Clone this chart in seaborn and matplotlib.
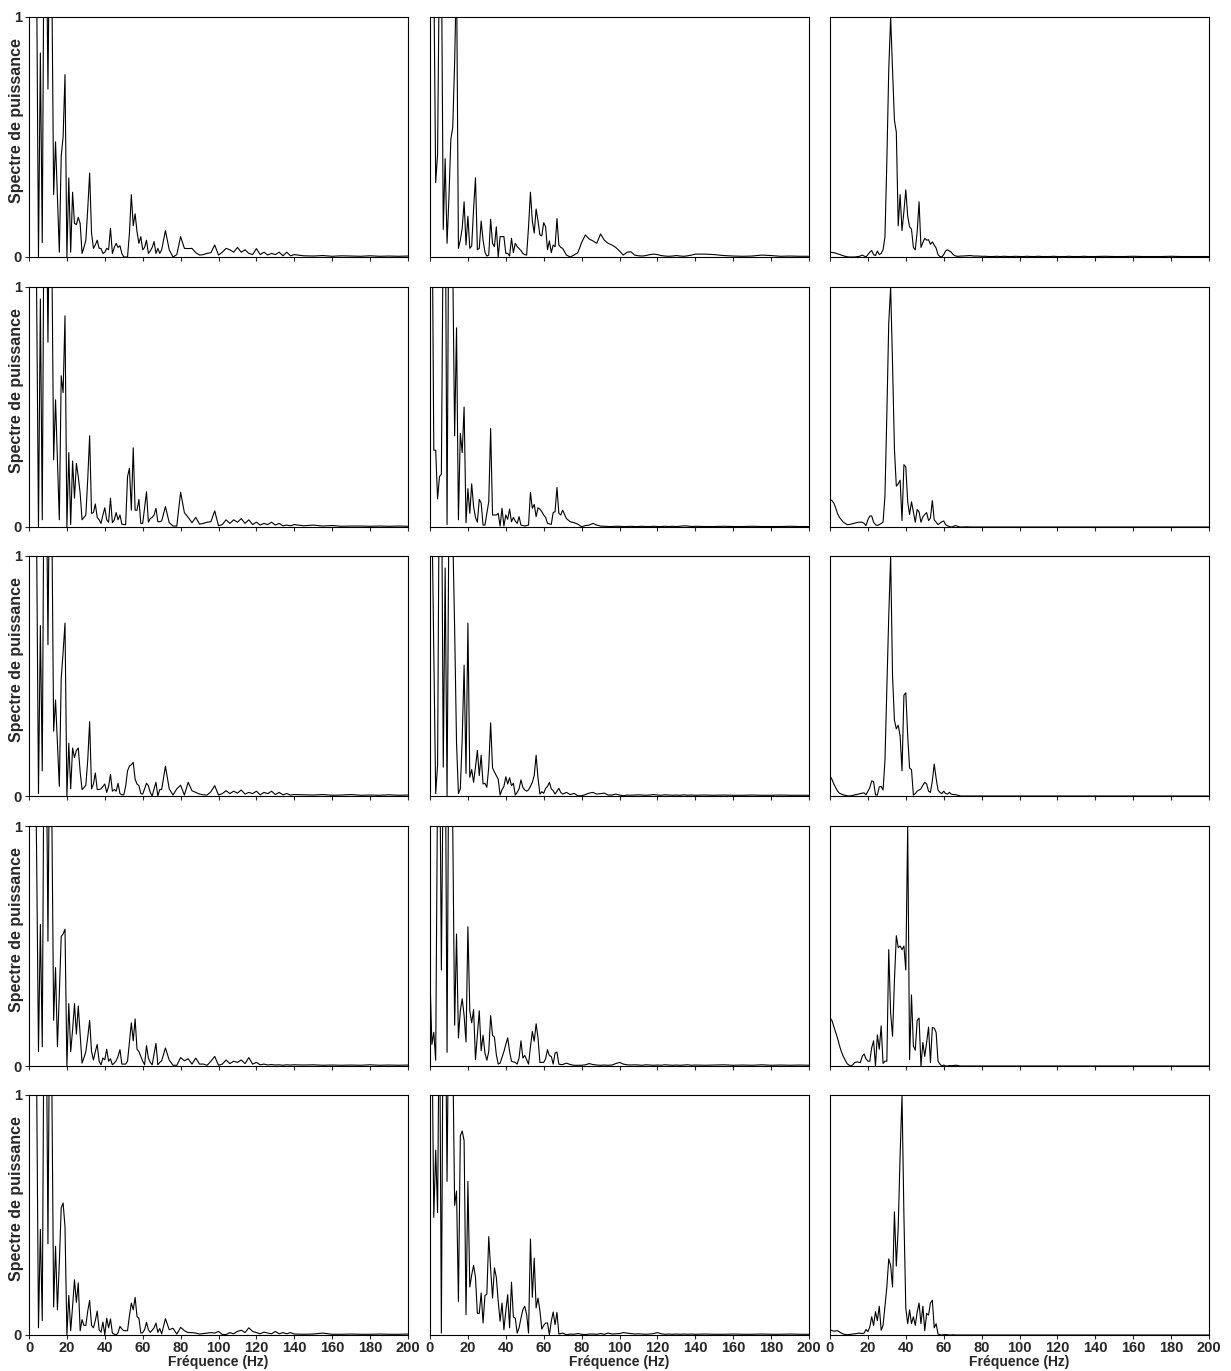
import numpy as np
import pandas as pd
import matplotlib
matplotlib.use('Agg')
import matplotlib.pyplot as plt
import seaborn as sns

# frequency grid (Hz): 1 Hz up to 70, 2 Hz up to 140, 5 Hz up to 200
freq = list(range(0, 71)) + list(range(72, 141, 2)) + list(range(145, 201, 5))

# ---- left column ----
L1 = [1.5, 1.5, 1.5, 1.5, 1.2, 0.0, 0.85, 0.06, 1.5, 1.5,
      0.70, 1.5, 1.2, 0.26, 0.48, 0.25, 0.02, 0.42, 0.50, 0.76,
      0.0, 0.33, 0.02, 0.27, 0.14, 0.135, 0.165, 0.14, 0.015, 0.04,
      0.07, 0.2, 0.35, 0.1, 0.036, 0.05, 0.07, 0.036, 0.036, 0.015,
      0.02, 0.036, 0.03, 0.12, 0.015, 0.04, 0.057, 0.04, 0.047, 0.015,
      0.0, 0.0, 0.0, 0.1, 0.26, 0.13, 0.18, 0.105, 0.057, 0.085,
      0.03, 0.04, 0.07, 0.015, 0.025, 0.04, 0.064, 0.015, 0.036, 0.015,
      0.03, 0.11, 0.03, 0.0, 0.01, 0.085, 0.036, 0.035, 0.036, 0.018,
      0.008, 0.01, 0.015, 0.018, 0.05, 0.008, 0.02, 0.036, 0.03, 0.02,
      0.04, 0.02, 0.03, 0.015, 0.01, 0.035, 0.01, 0.02, 0.008, 0.015,
      0.01, 0.02, 0.005, 0.02, 0.005, 0.01, 0.005, 0.004, 0.006, 0.003,
      0.005, 0.004, 0.003, 0.005, 0.003, 0.004, 0.003, 0.004]
L2 = [1.5, 1.5, 1.5, 1.5, 1.0, 0.0, 0.95, 0.03, 1.5, 1.5,
      0.77, 1.5, 1.2, 0.28, 0.53, 0.28, 0.03, 0.63, 0.56, 0.88,
      0.0, 0.31, 0.01, 0.275, 0.12, 0.265, 0.21, 0.14, 0.03, 0.04,
      0.05, 0.2, 0.38, 0.057, 0.06, 0.096, 0.04, 0.03, 0.015, 0.05,
      0.08, 0.03, 0.02, 0.12, 0.018, 0.03, 0.06, 0.03, 0.05, 0.012,
      0.01, 0.01, 0.21, 0.245, 0.07, 0.33, 0.07, 0.07, 0.115, 0.015,
      0.015, 0.08, 0.147, 0.02, 0.035, 0.04, 0.05, 0.078, 0.022, 0.022,
      0.025, 0.085, 0.018, 0.004, 0.004, 0.145, 0.06, 0.04, 0.018, 0.04,
      0.012, 0.015, 0.02, 0.022, 0.067, 0.005, 0.01, 0.03, 0.015, 0.03,
      0.02, 0.035, 0.015, 0.03, 0.01, 0.02, 0.008, 0.015, 0.01, 0.02,
      0.008, 0.015, 0.005, 0.008, 0.005, 0.01, 0.005, 0.008, 0.004, 0.006,
      0.003, 0.004, 0.004, 0.003, 0.004, 0.003, 0.004, 0.003]
L3 = [1.5, 1.5, 1.5, 1.5, 1.1, 0.01, 0.71, 0.105, 1.5, 1.5,
      0.63, 1.5, 1.2, 0.27, 0.40, 0.22, 0.04, 0.49, 0.60, 0.72,
      0.0, 0.22, 0.03, 0.2, 0.16, 0.19, 0.2, 0.1, 0.027, 0.035,
      0.045, 0.15, 0.31, 0.03, 0.05, 0.096, 0.027, 0.027, 0.03, 0.04,
      0.05, 0.015, 0.04, 0.09, 0.02, 0.027, 0.02, 0.053, 0.01, 0.005,
      0.005, 0.04, 0.105, 0.125, 0.13, 0.14, 0.07, 0.05, 0.043, 0.01,
      0.008, 0.03, 0.053, 0.043, 0.015, 0.0, 0.03, 0.057, 0.0, 0.027,
      0.027, 0.124, 0.03, 0.004, 0.03, 0.045, 0.004, 0.057, 0.022, 0.015,
      0.008, 0.005, 0.004, 0.018, 0.043, 0.004, 0.01, 0.022, 0.01, 0.02,
      0.012, 0.025, 0.008, 0.015, 0.01, 0.02, 0.005, 0.015, 0.01, 0.02,
      0.006, 0.015, 0.005, 0.01, 0.004, 0.006, 0.005, 0.004, 0.006, 0.003,
      0.004, 0.006, 0.003, 0.004, 0.003, 0.005, 0.003, 0.004]
L4 = [1.5, 1.5, 1.5, 1.5, 0.9, 0.06, 0.59, 0.08, 1.5, 1.5,
      0.52, 1.5, 1.1, 0.19, 0.41, 0.08, 0.3, 0.54, 0.55, 0.57,
      0.0, 0.26, 0.06, 0.15, 0.26, 0.133, 0.25, 0.13, 0.012, 0.035,
      0.06, 0.12, 0.19, 0.06, 0.025, 0.06, 0.09, 0.02, 0.005, 0.033,
      0.026, 0.07, 0.02, 0.03, 0.005, 0.012, 0.022, 0.04, 0.068, 0.008,
      0.008, 0.008, 0.02, 0.1, 0.18, 0.105, 0.196, 0.07, 0.06, 0.04,
      0.02, 0.005, 0.085, 0.033, 0.015, 0.005, 0.05, 0.094, 0.005, 0.015,
      0.022, 0.075, 0.025, 0.003, 0.003, 0.035, 0.022, 0.03, 0.008, 0.033,
      0.008, 0.008, 0.003, 0.02, 0.04, 0.003, 0.008, 0.025, 0.01, 0.02,
      0.015, 0.025, 0.01, 0.035, 0.008, 0.015, 0.005, 0.008, 0.004, 0.006,
      0.004, 0.005, 0.003, 0.005, 0.004, 0.005, 0.004, 0.005, 0.003, 0.004,
      0.003, 0.004, 0.003, 0.005, 0.003, 0.004, 0.003, 0.004]
L5 = [1.5, 1.5, 1.5, 1.5, 1.1, 0.03, 0.44, 0.06, 1.5, 1.5,
      0.38, 1.5, 1.1, 0.117, 0.37, 0.105, 0.3, 0.53, 0.55, 0.45,
      0.0, 0.165, 0.018, 0.12, 0.23, 0.136, 0.217, 0.018, 0.064, 0.04,
      0.04, 0.1, 0.144, 0.04, 0.03, 0.06, 0.1, 0.022, 0.011, 0.054,
      0.001, 0.07, 0.03, 0.067, 0.008, 0.003, 0.0, 0.01, 0.036, 0.025,
      0.018, 0.018, 0.018, 0.08, 0.133, 0.105, 0.157, 0.077, 0.07, 0.008,
      0.01, 0.022, 0.053, 0.022, 0.011, 0.02, 0.03, 0.05, 0.011, 0.027,
      0.005, 0.068, 0.022, 0.028, 0.004, 0.032, 0.018, 0.01, 0.01, 0.008,
      0.004, 0.006, 0.008, 0.01, 0.008, 0.015, 0.002, 0.002, 0.01, 0.005,
      0.015, 0.02, 0.01, 0.03, 0.015, 0.01, 0.005, 0.012, 0.008, 0.005,
      0.015, 0.005, 0.01, 0.005, 0.01, 0.004, 0.003, 0.004, 0.008, 0.003,
      0.003, 0.004, 0.003, 0.003, 0.004, 0.003, 0.003, 0.004]

# ---- middle column ----
M1 = [1.5, 1.5, 1.2, 0.31, 0.43, 1.3, 1.3, 0.115, 0.41, 0.057,
      0.25, 0.49, 0.54, 0.81, 1.2, 0.036, 0.07, 0.12, 0.23, 0.05,
      0.17, 0.036, 0.046, 0.2, 0.33, 0.03, 0.036, 0.15, 0.07, 0.02,
      0.004, 0.008, 0.157, 0.057, 0.043, 0.126, 0.0, 0.085, 0.085, 0.085,
      0.015, 0.015, 0.004, 0.078, 0.018, 0.057, 0.043, 0.035, 0.027, 0.015,
      0.01, 0.008, 0.126, 0.27, 0.15, 0.1, 0.2, 0.15, 0.092, 0.088,
      0.143, 0.126, 0.03, 0.067, 0.018, 0.05, 0.043, 0.16, 0.05, 0.04,
      0.036, 0.008, 0.0, 0.008, 0.018, 0.06, 0.092, 0.075, 0.067, 0.057,
      0.096, 0.07, 0.057, 0.05, 0.04, 0.025, 0.008, 0.02, 0.022, 0.008,
      0.005, 0.004, 0.006, 0.01, 0.012, 0.01, 0.006, 0.004, 0.003, 0.004,
      0.006, 0.004, 0.003, 0.005, 0.008, 0.012, 0.012, 0.01, 0.006, 0.004,
      0.003, 0.004, 0.008, 0.006, 0.003, 0.004, 0.003, 0.003]
M2 = [1.5, 1.5, 0.32, 0.32, 0.117, 0.21, 0.22, 1.3, 1.5, 0.01,
      1.5, 1.5, 1.1, 0.38, 0.83, 0.03, 0.39, 0.31, 0.5, 0.018,
      0.16, 0.057, 0.18, 0.085, 0.04, 0.02, 0.115, 0.1, 0.008, 0.008,
      0.057, 0.105, 0.41, 0.05, 0.05, 0.05, 0.057, 0.004, 0.078, 0.004,
      0.05, 0.032, 0.075, 0.022, 0.04, 0.025, 0.015, 0.043, 0.008, 0.006,
      0.004, 0.006, 0.008, 0.144, 0.078, 0.094, 0.043, 0.08, 0.074, 0.064,
      0.05, 0.04, 0.015, 0.013, 0.011, 0.06, 0.064, 0.165, 0.057, 0.05,
      0.07, 0.035, 0.022, 0.018, 0.012, 0.001, 0.006, 0.008, 0.015, 0.008,
      0.004, 0.003, 0.002, 0.002, 0.003, 0.003, 0.002, 0.002, 0.003, 0.002,
      0.002, 0.003, 0.002, 0.002, 0.003, 0.002, 0.002, 0.003, 0.002, 0.003,
      0.002, 0.003, 0.005, 0.004, 0.002, 0.003, 0.002, 0.002, 0.003, 0.002,
      0.002, 0.003, 0.002, 0.002, 0.002, 0.003, 0.002, 0.002]
M3 = [1.5, 1.2, 0.6, 0.01, 0.13, 1.5, 1.5, 0.12, 0.95, 0.0,
      1.2, 1.5, 1.1, 0.7, 0.22, 0.01, 0.03, 0.24, 0.545, 0.094,
      0.72, 0.078, 0.11, 0.057, 0.12, 0.19, 0.085, 0.17, 0.05, 0.053,
      0.036, 0.12, 0.305, 0.117, 0.1, 0.085, 0.07, 0.004, 0.026, 0.04,
      0.08, 0.05, 0.076, 0.043, 0.053, 0.004, 0.015, 0.03, 0.067, 0.036,
      0.025, 0.02, 0.026, 0.04, 0.057, 0.085, 0.17, 0.074, 0.008, 0.018,
      0.011, 0.032, 0.04, 0.057, 0.03, 0.022, 0.008, 0.02, 0.032, 0.015,
      0.008, 0.015, 0.006, 0.011, 0.001, 0.001, 0.006, 0.012, 0.015, 0.008,
      0.01, 0.012, 0.004, 0.004, 0.008, 0.004, 0.001, 0.004, 0.003, 0.004,
      0.005, 0.004, 0.003, 0.004, 0.006, 0.004, 0.003, 0.005, 0.004, 0.003,
      0.004, 0.003, 0.005, 0.003, 0.004, 0.003, 0.004, 0.003, 0.004, 0.003,
      0.003, 0.004, 0.003, 0.003, 0.004, 0.003, 0.003, 0.003]
M4 = [0.37, 0.09, 0.14, 0.024, 1.2, 1.5, 0.40, 1.3, 1.5, 0.057,
      1.5, 1.5, 1.0, 0.17, 0.55, 0.117, 0.23, 0.28, 0.21, 0.1,
      0.58, 0.23, 0.18, 0.235, 0.026, 0.13, 0.23, 0.064, 0.128, 0.054,
      0.024, 0.06, 0.21, 0.128, 0.12, 0.047, 0.008, 0.012, 0.036, 0.06,
      0.09, 0.117, 0.06, 0.02, 0.017, 0.015, 0.008, 0.033, 0.105, 0.033,
      0.044, 0.026, 0.008, 0.08, 0.144, 0.103, 0.176, 0.117, 0.015, 0.015,
      0.015, 0.03, 0.068, 0.043, 0.04, 0.008, 0.054, 0.058, 0.008, 0.006,
      0.006, 0.012, 0.006, 0.003, 0.003, 0.003, 0.005, 0.01, 0.006, 0.004,
      0.003, 0.004, 0.003, 0.004, 0.01, 0.015, 0.008, 0.005, 0.004, 0.005,
      0.004, 0.003, 0.005, 0.004, 0.003, 0.004, 0.003, 0.005, 0.004, 0.003,
      0.004, 0.003, 0.004, 0.005, 0.003, 0.004, 0.003, 0.004, 0.005, 0.003,
      0.004, 0.003, 0.005, 0.003, 0.004, 0.003, 0.004, 0.003]
M5 = [1.5, 1.3, 0.49, 0.77, 0.51, 1.5, 0.008, 1.5, 1.5, 0.64,
      1.5, 1.3, 1.2, 0.54, 0.6, 0.14, 0.83, 0.85, 0.81, 0.085,
      0.64, 0.2, 0.25, 0.29, 0.24, 0.09, 0.09, 0.175, 0.05, 0.164,
      0.17, 0.41, 0.275, 0.154, 0.28, 0.24, 0.14, 0.057, 0.133, 0.022,
      0.1, 0.168, 0.03, 0.22, 0.075, 0.07, 0.008, 0.03, 0.07, 0.105,
      0.12, 0.085, 0.008, 0.4, 0.157, 0.32, 0.113, 0.154, 0.101, 0.025,
      0.04, 0.05, 0.05, 0.001, 0.057, 0.096, 0.043, 0.094, 0.004, 0.006,
      0.008, 0.001, 0.004, 0.003, 0.006, 0.003, 0.002, 0.004, 0.004, 0.003,
      0.006, 0.003, 0.008, 0.004, 0.005, 0.006, 0.01, 0.008, 0.006, 0.004,
      0.005, 0.004, 0.003, 0.004, 0.006, 0.01, 0.005, 0.003, 0.004, 0.003,
      0.004, 0.003, 0.004, 0.003, 0.004, 0.003, 0.004, 0.003, 0.003, 0.004,
      0.003, 0.003, 0.004, 0.003, 0.003, 0.004, 0.003, 0.003]

# ---- right column ----
R1 = [0.02, 0.019, 0.018, 0.016, 0.013, 0.011, 0.008, 0.005, 0.003, 0.001,
      0.0, 0.0, 0.0, 0.0, 0.001, 0.002, 0.004, 0.008, 0.004, 0.0,
      0.01, 0.02, 0.027, 0.01, 0.006, 0.025, 0.01, 0.015, 0.03, 0.084,
      0.4, 0.78, 1.0, 0.78, 0.57, 0.52, 0.13, 0.26, 0.11, 0.19,
      0.28, 0.17, 0.126, 0.116, 0.04, 0.03, 0.105, 0.23, 0.04, 0.06,
      0.078, 0.07, 0.072, 0.053, 0.063, 0.05, 0.037, 0.01, 0.002, 0.0,
      0.01, 0.025, 0.03, 0.025, 0.02, 0.01, 0.005, 0.003, 0.003, 0.004,
      0.004, 0.005, 0.006, 0.004, 0.004, 0.003, 0.003, 0.002, 0.002, 0.003,
      0.002, 0.003, 0.002, 0.002, 0.003, 0.002, 0.002, 0.003, 0.002, 0.002,
      0.003, 0.002, 0.002, 0.002, 0.003, 0.002, 0.002, 0.002, 0.003, 0.002,
      0.002, 0.002, 0.003, 0.002, 0.002, 0.002, 0.003, 0.002, 0.002, 0.003,
      0.002, 0.002, 0.002, 0.003, 0.002, 0.002, 0.002, 0.002]
R2 = [0.115, 0.11, 0.1, 0.08, 0.055, 0.04, 0.03, 0.02, 0.015, 0.01,
      0.01, 0.012, 0.014, 0.016, 0.018, 0.02, 0.02, 0.02, 0.015, 0.006,
      0.03, 0.046, 0.046, 0.02, 0.01, 0.006, 0.01, 0.015, 0.02, 0.13,
      0.47, 0.85, 1.0, 0.68, 0.325, 0.17, 0.18, 0.195, 0.027, 0.26,
      0.25, 0.105, 0.052, 0.105, 0.063, 0.02, 0.073, 0.063, 0.02, 0.042,
      0.052, 0.06, 0.027, 0.037, 0.11, 0.03, 0.02, 0.01, 0.016, 0.022,
      0.025, 0.01, 0.005, 0.002, 0.0, 0.002, 0.006, 0.004, 0.001, 0.0,
      0.0, 0.001, 0.0, 0.0, 0.0, 0.0, 0.0, 0.0, 0.0, 0.0,
      0.0, 0.0, 0.0, 0.0, 0.0, 0.0, 0.0, 0.0, 0.0, 0.0,
      0.0, 0.0, 0.0, 0.0, 0.0, 0.0, 0.0, 0.0, 0.0, 0.0,
      0.0, 0.0, 0.0, 0.0, 0.0, 0.0, 0.0, 0.0, 0.0, 0.0,
      0.0, 0.0, 0.0, 0.0, 0.0, 0.0, 0.0, 0.0]
R3 = [0.084, 0.07, 0.05, 0.035, 0.02, 0.012, 0.008, 0.005, 0.003, 0.001,
      0.0, 0.001, 0.002, 0.005, 0.006, 0.008, 0.01, 0.012, 0.013, 0.005,
      0.02, 0.035, 0.063, 0.06, 0.005, 0.004, 0.038, 0.04, 0.025, 0.147,
      0.45, 0.75, 1.0, 0.5, 0.316, 0.28, 0.295, 0.25, 0.105, 0.42,
      0.43, 0.25, 0.116, 0.11, 0.004, 0.01, 0.02, 0.025, 0.03, 0.045,
      0.057, 0.05, 0.02, 0.015, 0.063, 0.133, 0.074, 0.025, 0.015, 0.01,
      0.02, 0.01, 0.008, 0.015, 0.008, 0.006, 0.006, 0.004, 0.002, 0.0,
      0.0, 0.0, 0.0, 0.0, 0.0, 0.0, 0.0, 0.0, 0.0, 0.0,
      0.0, 0.0, 0.0, 0.0, 0.0, 0.0, 0.0, 0.0, 0.0, 0.0,
      0.0, 0.0, 0.0, 0.0, 0.0, 0.0, 0.0, 0.0, 0.0, 0.0,
      0.0, 0.0, 0.0, 0.0, 0.0, 0.0, 0.0, 0.0, 0.0, 0.0,
      0.0, 0.0, 0.0, 0.0, 0.0, 0.0, 0.0, 0.0]
R4 = [0.2, 0.19, 0.165, 0.14, 0.115, 0.085, 0.06, 0.04, 0.025, 0.01,
      0.004, 0.0, 0.005, 0.014, 0.017, 0.016, 0.014, 0.04, 0.05, 0.03,
      0.02, 0.02, 0.076, 0.105, 0.0, 0.13, 0.07, 0.167, 0.011, 0.02,
      0.02, 0.485, 0.22, 0.124, 0.356, 0.543, 0.493, 0.5, 0.485, 0.5,
      0.4, 1.0, 0.026, 0.296, 0.083, 0.066, 0.19, 0.2, 0.0, 0.098,
      0.04, 0.098, 0.162, 0.014, 0.16, 0.158, 0.14, 0.02, 0.008, 0.0,
      0.004, 0.0, 0.0, 0.002, 0.001, 0.002, 0.003, 0.003, 0.001, 0.0,
      0.0, 0.0, 0.0, 0.0, 0.0, 0.0, 0.0, 0.0, 0.0, 0.0,
      0.0, 0.0, 0.0, 0.0, 0.0, 0.0, 0.0, 0.0, 0.0, 0.0,
      0.0, 0.0, 0.0, 0.0, 0.0, 0.0, 0.0, 0.0, 0.0, 0.0,
      0.0, 0.0, 0.0, 0.0, 0.0, 0.0, 0.0, 0.0, 0.0, 0.0,
      0.0, 0.0, 0.0, 0.0, 0.0, 0.0, 0.0, 0.0]
R5 = [0.023, 0.018, 0.016, 0.017, 0.018, 0.013, 0.008, 0.004, 0.002, 0.001,
      0.002, 0.003, 0.004, 0.005, 0.006, 0.008, 0.007, 0.006, 0.008, 0.023,
      0.014, 0.033, 0.076, 0.04, 0.097, 0.06, 0.12, 0.02, 0.04, 0.12,
      0.2, 0.317, 0.29, 0.2, 0.513, 0.287, 0.45, 0.75, 1.0, 0.5,
      0.112, 0.047, 0.105, 0.047, 0.076, 0.04, 0.095, 0.133, 0.047, 0.12,
      0.018, 0.09, 0.083, 0.133, 0.145, 0.03, 0.047, 0.004, 0.001, 0.0,
      0.001, 0.002, 0.001, 0.0, 0.0, 0.001, 0.0, 0.0, 0.0, 0.0,
      0.0, 0.0, 0.0, 0.0, 0.0, 0.0, 0.0, 0.0, 0.0, 0.0,
      0.0, 0.0, 0.0, 0.0, 0.0, 0.0, 0.0, 0.0, 0.0, 0.0,
      0.0, 0.0, 0.0, 0.0, 0.0, 0.0, 0.0, 0.0, 0.0, 0.0,
      0.0, 0.0, 0.0, 0.0, 0.0, 0.0, 0.0, 0.0, 0.0, 0.0,
      0.0, 0.0, 0.0, 0.0, 0.0, 0.0, 0.0, 0.0]

panels = [[L1, M1, R1],
          [L2, M2, R2],
          [L3, M3, R3],
          [L4, M4, R4],
          [L5, M5, R5]]

for r, row in enumerate(panels):
    for c, vals in enumerate(row):
        if len(vals) != len(freq):
            raise ValueError(f"panel row {r} col {c}: {len(vals)} values, expected {len(freq)}")

sns.set_style("white")
plt.rcParams['font.family'] = ['Liberation Sans', 'DejaVu Sans']

W, H = 1231, 1371
fig = plt.figure(figsize=(W / 100, H / 100), dpi=100)

# panel positions in pixels
col_left = [29, 430, 830]
col_w = 379
row_top = [17, 287, 556, 826, 1095]
row_h = 240

for r in range(5):
    for c in range(3):
        ax = fig.add_axes([col_left[c] / W, 1 - (row_top[r] + row_h) / H, col_w / W, row_h / H])
        df = pd.DataFrame({'freq': freq, 'power': panels[r][c]})
        sns.lineplot(data=df, x='freq', y='power', ax=ax, color='black',
                     linewidth=0.8, estimator=None, sort=False)
        ax.set_xlim(0, 200)
        ax.set_ylim(0, 1)
        ax.set_xticks(range(0, 201, 20))
        ax.set_yticks([0, 1])
        for s in ax.spines.values():
            s.set_color('black')
            s.set_linewidth(0.8)
        ax.tick_params(axis='x', bottom=True, direction='out', length=3, width=0.8,
                       labelsize=10.5, pad=1, labelbottom=(r == 4))
        ax.tick_params(axis='y', left=(c == 0), direction='out', length=3, width=0.8,
                       labelsize=10.5, pad=2, labelleft=(c == 0))
        for lab in ax.get_xticklabels() + ax.get_yticklabels():
            lab.set_fontweight('bold')
        ax.set_xlabel('')
        ax.set_ylabel('')
        if c == 0:
            ax.set_ylabel('Spectre de puissance', fontsize=11.5, fontweight='bold')
            ax.yaxis.set_label_coords(-0.012, 0.57)
        if r == 4:
            ax.set_xlabel('Fréquence (Hz)', fontsize=10, fontweight='bold', labelpad=0)

fig.savefig('out.png', dpi=100)
